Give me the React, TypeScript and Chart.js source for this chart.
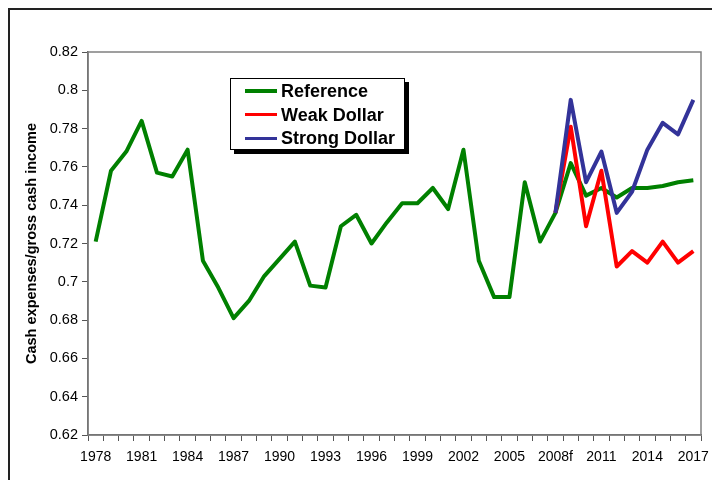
import React, { useEffect, useRef } from "react";
import { Chart, registerables } from "chart.js";

Chart.register(...registerables);

const categories: string[] = [
  "1978", "1979", "1980", "1981", "1982", "1983", "1984", "1985", "1986", "1987",
  "1988", "1989", "1990", "1991", "1992", "1993", "1994", "1995", "1996", "1997",
  "1998", "1999", "2000", "2001", "2002", "2003", "2004", "2005", "2006", "2007",
  "2008f", "2009", "2010", "2011", "2012", "2013", "2014", "2015", "2016", "2017",
];

const referenceValues: (number | null)[] = [
  0.721, 0.758, 0.768, 0.784, 0.757, 0.755, 0.769, 0.711, 0.697, 0.681,
  0.690, 0.703, 0.712, 0.721, 0.698, 0.697, 0.729, 0.735, 0.720, 0.731,
  0.741, 0.741, 0.749, 0.738, 0.769, 0.711, 0.692, 0.692, 0.752, 0.721,
  0.736, 0.762, 0.745, 0.749, 0.744, 0.749, 0.749, 0.750, 0.752, 0.753,
];

const weakDollarValues: (number | null)[] = [
  null, null, null, null, null, null, null, null, null, null,
  null, null, null, null, null, null, null, null, null, null,
  null, null, null, null, null, null, null, null, null, null,
  0.736, 0.781, 0.729, 0.758, 0.708, 0.716, 0.710, 0.721, 0.710, 0.716,
];

const strongDollarValues: (number | null)[] = [
  null, null, null, null, null, null, null, null, null, null,
  null, null, null, null, null, null, null, null, null, null,
  null, null, null, null, null, null, null, null, null, null,
  0.736, 0.795, 0.752, 0.768, 0.736, 0.747, 0.769, 0.783, 0.777, 0.795,
];

const seriesNames: string[] = ["Reference", "Weak Dollar", "Strong Dollar"];
const seriesColors: string[] = ["#008000", "#ff0000", "#333399"];

const yTitle = "Cash expenses/gross cash income";
const yMin = 0.62;
const yMax = 0.82;
const yStep = 0.02;
const xLabelEvery = 3;

const FONT = "'Liberation Sans', Arial, sans-serif";

const plotBorder = {
  id: "plotBorder",
  beforeDatasetsDraw(chart: any) {
    const { ctx, chartArea } = chart;
    ctx.save();
    ctx.strokeStyle = "#808080";
    ctx.lineWidth = 1.5;
    ctx.strokeRect(chartArea.left, chartArea.top, chartArea.right - chartArea.left, chartArea.bottom - chartArea.top);
    ctx.restore();
  },
};

export default function App() {
  const canvasRef = useRef<HTMLCanvasElement | null>(null);

  useEffect(() => {
    if (!canvasRef.current) return;
    const values = [referenceValues, weakDollarValues, strongDollarValues];
    const chart = new Chart(canvasRef.current, {
      type: "line",
      data: {
        labels: categories,
        datasets: values.map((v, i) => ({
          label: seriesNames[i],
          data: v,
          borderColor: seriesColors[i],
          backgroundColor: seriesColors[i],
          borderWidth: 4,
          pointRadius: 0,
          tension: 0,
          fill: false,
          spanGaps: false,
          borderJoinStyle: "round" as const,
          order: 3 - i,
        })),
      },
      options: {
        responsive: false,
        animation: false,
        layout: { padding: { top: 52, right: 11, bottom: 0, left: 0 } },
        plugins: {
          legend: { display: false },
          tooltip: { enabled: false },
        },
        scales: {
          x: {
            type: "category",
            offset: true,
            grid: {
              offset: true,
              drawOnChartArea: false,
              drawTicks: true,
              tickLength: 6,
              color: "#555",
              lineWidth: 1,
            },
            border: { display: true, color: "#555", width: 1.5 },
            ticks: {
              autoSkip: false,
              maxRotation: 0,
              minRotation: 0,
              padding: 8,
              color: "#000",
              font: { family: FONT, size: 14 },
              callback: (_v: any, idx: number) => (idx % xLabelEvery === 0 ? categories[idx] : ""),
            },
            afterFit: (scale: any) => {
              scale.height = 45;
              scale.paddingLeft = 0;
              scale.paddingRight = 0;
            },
          },
          y: {
            type: "linear",
            min: yMin,
            max: yMax,
            grid: {
              drawOnChartArea: false,
              drawTicks: true,
              tickLength: 6,
              color: "#555",
              lineWidth: 1,
            },
            border: { display: true, color: "#555", width: 1.5 },
            ticks: {
              stepSize: yStep,
              padding: 4,
              color: "#000",
              font: { family: FONT, size: 14.5 },
              callback: (v: any) => String(parseFloat(Number(v).toFixed(2))),
            },
            title: {
              display: true,
              text: yTitle,
              color: "#000",
              font: { family: FONT, size: 14.5, weight: "bold" },
              padding: { top: 23, bottom: 0 },
            },
            afterFit: (scale: any) => {
              scale.width = 88;
              scale.paddingTop = 0;
              scale.paddingBottom = 0;
            },
          },
        },
      },
      plugins: [plotBorder],
    });
    return () => chart.destroy();
  }, []);

  const legendRowTop = [12, 35.5, 59];

  return (
    <div style={{ position: "absolute", left: 0, top: 0, width: 712, height: 480, overflow: "hidden", background: "#fff" }}>
      <canvas ref={canvasRef} width={712} height={480} style={{ display: "block", position: "absolute", left: 0, top: 0 }} />
      <div
        style={{
          position: "absolute",
          left: 8,
          top: 8,
          width: 720,
          height: 490,
          borderLeft: "2px solid #222",
          borderTop: "2px solid #222",
          pointerEvents: "none",
        }}
      />
      <div
        style={{
          position: "absolute",
          left: 230,
          top: 78,
          width: 175,
          height: 72,
          boxSizing: "border-box",
          border: "1.5px solid #000",
          background: "#fff",
          boxShadow: "4px 4px 0 #000",
          fontFamily: FONT,
        }}
      >
        {seriesNames.map((name, i) => (
          <div
            key={name}
            style={{
              position: "absolute",
              left: 0,
              top: legendRowTop[i] - 11,
              height: 22,
              display: "flex",
              alignItems: "center",
              whiteSpace: "nowrap",
            }}
          >
            <div
              style={{
                marginLeft: 14,
                width: 32,
                height: i === 0 ? 4 : 3,
                background: seriesColors[i],
              }}
            />
            <span style={{ marginLeft: 4, fontSize: 18, fontWeight: "bold", color: "#000", lineHeight: "22px" }}>{name}</span>
          </div>
        ))}
      </div>
    </div>
  );
}
